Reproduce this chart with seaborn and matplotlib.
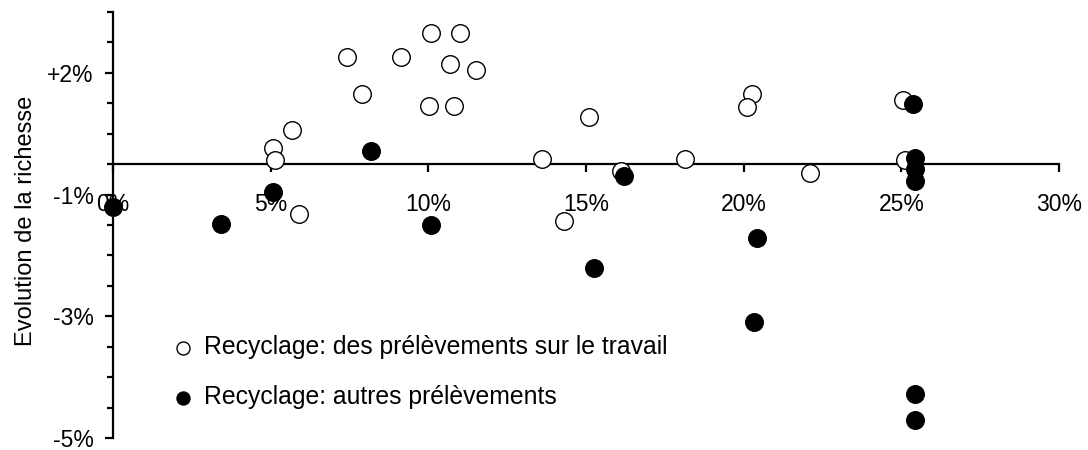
import matplotlib
matplotlib.use("Agg")
import matplotlib.pyplot as plt
import seaborn as sns
import numpy as np

# ---- data ----
travail_x = [7.42, 9.12, 10.07, 11.0, 10.70, 11.5, 7.90, 10.03, 10.81, 5.68, 5.08, 5.13, 5.90,
             15.09, 13.62, 16.12, 18.13, 14.29, 20.26, 20.11, 22.09, 25.05, 25.13]
travail_y = [1.26, 1.26, 1.65, 1.66, 1.15, 1.05, 0.66, 0.46, 0.46, 0.06, -0.24, -0.43, -1.32,
             0.27, -0.42, -0.61, -0.42, -1.44, 0.66, 0.44, -0.65, 0.56, -0.43]
autres_x = [0.01, 3.41, 5.06, 8.19, 10.10, 15.24, 16.21, 20.42, 20.33, 25.37, 25.42, 25.42, 25.42,
            25.42, 25.42]
autres_y = [-1.21, -1.48, -0.95, -0.29, -1.50, -2.21, -0.70, -1.71, -3.09, 0.49, -0.40, -0.58, -0.78,
            -4.27, -4.70]

xtick_vals = [0, 5, 10, 15, 20, 25, 30]
xtick_labels = ["0%", "5%", "10%", "15%", "20%", "25%", "30%"]
ytick_vals = [-5, -3, -1, 1]
ytick_labels = ["-5%", "-3%", "-1%", "+2%"]
label_travail = "Recyclage: des prélèvements sur le travail"
label_autres = "Recyclage: autres prélèvements"
ylabel = "Evolution de la richesse"

sns.set_style("white")
plt.rcParams['font.family'] = ['Liberation Sans', 'DejaVu Sans']
plt.rcParams['text.color'] = 'black'
plt.rcParams['axes.labelcolor'] = 'black'
plt.rcParams['xtick.color'] = 'black'
plt.rcParams['ytick.color'] = 'black'
plt.rcParams['axes.edgecolor'] = 'black'

FS = 16.5
fig = plt.figure(figsize=(10.88, 4.5), dpi=100)
ax = fig.add_axes([113/1088, 1 - 438/450, (1059 - 113)/1088, (438 - 12)/450])

sns.scatterplot(x=travail_x, y=travail_y, ax=ax, s=160, color='white', edgecolor='black',
                linewidth=1.0, label=label_travail, zorder=3, clip_on=False)
sns.scatterplot(x=autres_x, y=autres_y, ax=ax, s=160, color='black', edgecolor='black',
                linewidth=1.0, label=label_autres, zorder=4, clip_on=False)

ax.set_xlim(0, 30)
ax.set_ylim(-5, 2)

for s in ['top', 'right']:
    ax.spines[s].set_visible(False)
ax.spines['left'].set_linewidth(1.6)
ax.spines['bottom'].set_linewidth(1.6)
ax.spines['bottom'].set_position(('data', -0.5))

ax.set_xticks(xtick_vals)
ax.set_xticklabels(xtick_labels, fontsize=FS)
ax.set_yticks(ytick_vals)
ax.set_yticklabels(ytick_labels, fontsize=FS)
ax.set_yticks(np.arange(-5, 2.01, 0.5), minor=True)
ax.tick_params(axis='x', which='major', direction='out', length=6, width=1.6, pad=15, bottom=True)
ax.tick_params(axis='y', which='major', direction='out', length=6, width=1.6, pad=8, left=True)
ax.tick_params(axis='y', which='minor', direction='out', length=4, width=1.6, left=True)

ax.set_xlabel("")
ax.set_ylabel(ylabel, fontsize=17)
ax.yaxis.set_label_coords((37 - 113)/946, (438 - 221)/426)

ax.legend(frameon=False, markerscale=0.74, loc='upper left',
          bbox_to_anchor=((173 - 113)/946, (438 - 335)/426),
          handlelength=0.8, handletextpad=0.45, labelspacing=1.06,
          borderaxespad=0, borderpad=0, fontsize=17.8)

fig.savefig("out.png", dpi=100)
